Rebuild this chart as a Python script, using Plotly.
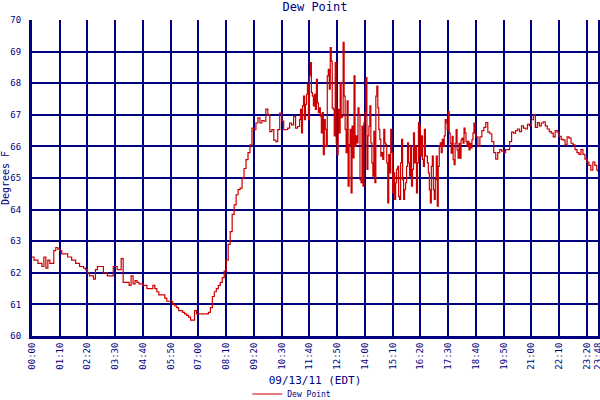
import pandas as pd
import plotly.graph_objects as go

DAY = "2011-09-13 "

# dew point readings, degrees F
# 00:00 - 11:10, every 5 minutes
dew_early = [
    62.5, 62.4, 62.4, 62.3, 62.3, 62.2, 62.5, 62.15, 62.4, 62.3,
    62.3, 62.7, 62.8, 62.75, 62.7, 62.6, 62.6, 62.6, 62.5, 62.5,
    62.4, 62.4, 62.3, 62.3, 62.2, 62.2, 62.15, 62.1, 62.0, 61.9,
    61.9, 61.8, 62.1, 62.2, 62.2, 62.2, 62.0, 62.0, 61.9, 61.9,
    61.9, 62.2, 62.2, 62.1, 62.1, 62.45, 61.7, 61.7, 61.7, 61.6,
    61.9, 61.65, 61.75, 61.7, 61.65, 61.65, 61.6, 61.6, 61.5, 61.5,
    61.5, 61.6, 61.5, 61.4, 61.3, 61.3, 61.3, 61.2, 61.1, 61.1,
    61.1, 61.0, 60.95, 60.9, 60.8, 60.8, 60.75, 60.7, 60.65, 60.6,
    60.5, 60.5, 60.8, 60.7, 60.7, 60.7, 60.7, 60.7, 60.7, 60.75,
    60.9, 61.25, 61.4, 61.5, 61.6, 61.7, 61.85, 62.05, 62.4, 62.9,
    63.3, 63.85, 64.15, 64.47, 64.63, 64.68, 65.0, 65.3, 65.58, 65.8,
    66.05, 66.58, 66.53, 66.74, 66.9, 66.74, 66.82, 66.8, 67.18, 67.0,
    66.47, 66.53, 66.2, 66.15, 66.53, 67.05, 66.8, 66.53, 66.53, 66.58,
    66.74, 66.68, 66.95, 66.58, 66.63,
]

# 11:15 - 18:37:30, every 2.5 minutes
dew_mid = [
    66.85, 67.17, 66.43, 67.28, 67.59, 66.85, 67.33, 67.65, 67.96, 66.85,
    68.23, 68.65, 67.70, 67.59, 67.28, 67.65, 67.17, 68.12, 67.38, 67.07,
    67.22, 66.96, 66.43, 67.07, 65.74, 66.85, 66.54, 66.0, 68.23, 68.44,
    67.81, 69.13, 68.70, 67.22, 67.17, 66.33, 68.65, 66.11, 65.74, 67.17,
    66.43, 68.02, 66.91, 66.96, 69.29, 67.59, 66.54, 65.80, 67.44, 64.74,
    66.06, 66.54, 64.53, 66.64, 65.64, 68.23, 66.0, 66.33, 66.11, 67.22,
    67.01, 64.95, 64.85, 66.64, 64.74, 66.75, 67.07, 68.18, 65.27, 66.33,
    66.64, 67.28, 66.11, 65.48, 65.06, 66.48, 64.85, 67.59, 67.91, 67.22,
    66.54, 66.22, 65.69, 65.80, 65.59, 66.54, 66.11, 66.06, 65.48, 64.21,
    65.74, 65.16, 66.54, 65.80, 64.53, 65.16, 64.32, 64.85, 65.27, 65.37,
    64.42, 64.32, 65.48, 66.22, 64.95, 64.32, 64.63, 64.85, 65.37, 66.11,
    65.48, 65.06, 66.0, 64.74, 65.27, 66.43, 65.48, 66.0, 64.53, 65.48,
    66.75, 66.64, 65.69, 66.33, 65.59, 65.37, 66.54, 65.69, 65.69, 65.48,
    65.16, 64.63, 64.21, 65.37, 65.69, 64.63, 64.32, 64.95, 65.69, 64.11,
    65.37, 66.0, 66.11, 65.80, 66.22, 66.0, 66.33, 66.85,
    66.74, 66.53, 67.1, 66.42, 66.1, 65.79, 66.32, 65.58, 65.42, 66.1,
    66.53, 65.89, 65.63, 66.1, 65.63, 66.21, 66.26, 66.1, 66.58, 66.42,
    66.16, 66.0, 66.16, 65.89, 66.1, 65.95, 66.21, 66.42, 66.74, 66.42,
]

# 18:40 - 23:45, every 5 minutes, then the last reading at 23:48
dew_late = [
    66.3, 66.0, 66.3, 66.5, 66.6, 66.75, 66.45, 66.4, 66.15, 65.8,
    65.6, 65.8, 65.9, 65.85, 65.8, 65.9, 65.9, 66.15, 66.45, 66.42,
    66.5, 66.55, 66.47, 66.65, 66.58, 66.55, 66.7, 66.65, 66.85, 67.0,
    66.6, 66.75, 66.65, 66.74, 66.78, 66.65, 66.55, 66.47, 66.42, 66.3,
    66.5, 66.45, 66.32, 66.22, 66.2, 66.05, 66.3, 66.26, 66.1, 66.05,
    65.9, 65.8, 65.75, 65.9, 65.75, 65.6, 65.5, 65.4, 65.25, 65.5,
    65.4, 65.25, 65.2,
]

tick_labels = [
    "00:00", "01:10", "02:20", "03:30", "04:40", "05:50", "07:00", "08:10",
    "09:20", "10:30", "11:40", "12:50", "14:00", "15:10", "16:20", "17:30",
    "18:40", "19:50", "21:00", "22:10", "23:20", "23:48",
]

times = (
    list(pd.date_range(DAY + "00:00", periods=len(dew_early), freq="5min"))
    + list(pd.date_range(DAY + "11:15", periods=len(dew_mid), freq="150s"))
    + list(pd.date_range(DAY + "18:40", periods=len(dew_late) - 1, freq="5min"))
    + [pd.Timestamp(DAY + "23:48")]
)
dew = dew_early + dew_mid + dew_late

navy = "#000080"
font = "DejaVu Sans Mono"

fig = go.Figure()
fig.add_trace(
    go.Scatter(
        x=times,
        y=dew,
        mode="lines",
        name="Dew Point",
        line=dict(color="#cc0000", width=1.2, shape="hv"),
    )
)

fig.update_layout(
    width=600,
    height=400,
    # keep the legend from pushing the plot area up
    margin=dict(l=32, r=2, t=20, b=64, autoexpand=False),
    paper_bgcolor="white",
    plot_bgcolor="white",
    font=dict(family=font, color=navy),
    title=dict(
        text="Dew Point",
        xref="paper",
        x=0.5,
        xanchor="center",
        y=0.994,
        yanchor="top",
        font=dict(size=12, color=navy),
        automargin=False,
    ),
    showlegend=True,
    legend=dict(
        orientation="h",
        x=0.459,
        xanchor="center",
        y=-0.1835,
        yanchor="middle",
        font=dict(size=8, color=navy),
        bgcolor="rgba(0,0,0,0)",
    ),
)

fig.update_xaxes(
    range=[pd.Timestamp(DAY + "00:00"), pd.Timestamp(DAY + "23:48")],
    tickmode="array",
    tickvals=[pd.Timestamp(DAY + t) for t in tick_labels],
    ticktext=tick_labels,
    tickangle=-90,
    tickfont=dict(size=9, family=font, color=navy),
    ticklabeloverflow="allow",
    showgrid=True,
    gridcolor=navy,
    gridwidth=2,
    showline=True,
    linecolor=navy,
    linewidth=3,
    ticks="",
    automargin=False,
    title=dict(text="09/13/11 (EDT)", font=dict(size=11, color=navy), standoff=8),
)
fig.update_yaxes(
    range=[60, 70],
    dtick=1,
    tickfont=dict(size=9, family=font, color=navy),
    showgrid=True,
    gridcolor=navy,
    gridwidth=2,
    showline=True,
    mirror=True,
    linecolor=navy,
    linewidth=3,
    ticks="",
    ticklabelstandoff=6,
    zeroline=False,
    automargin=False,
    title=dict(text="Degrees F", font=dict(size=10, color=navy), standoff=2),
)

# the page has a default body margin; drop it so the figure sits at 0,0
fig.write_html(
    "out.html",
    config={"displayModeBar": False},
    post_script="document.body.style.margin = '0';",
)
